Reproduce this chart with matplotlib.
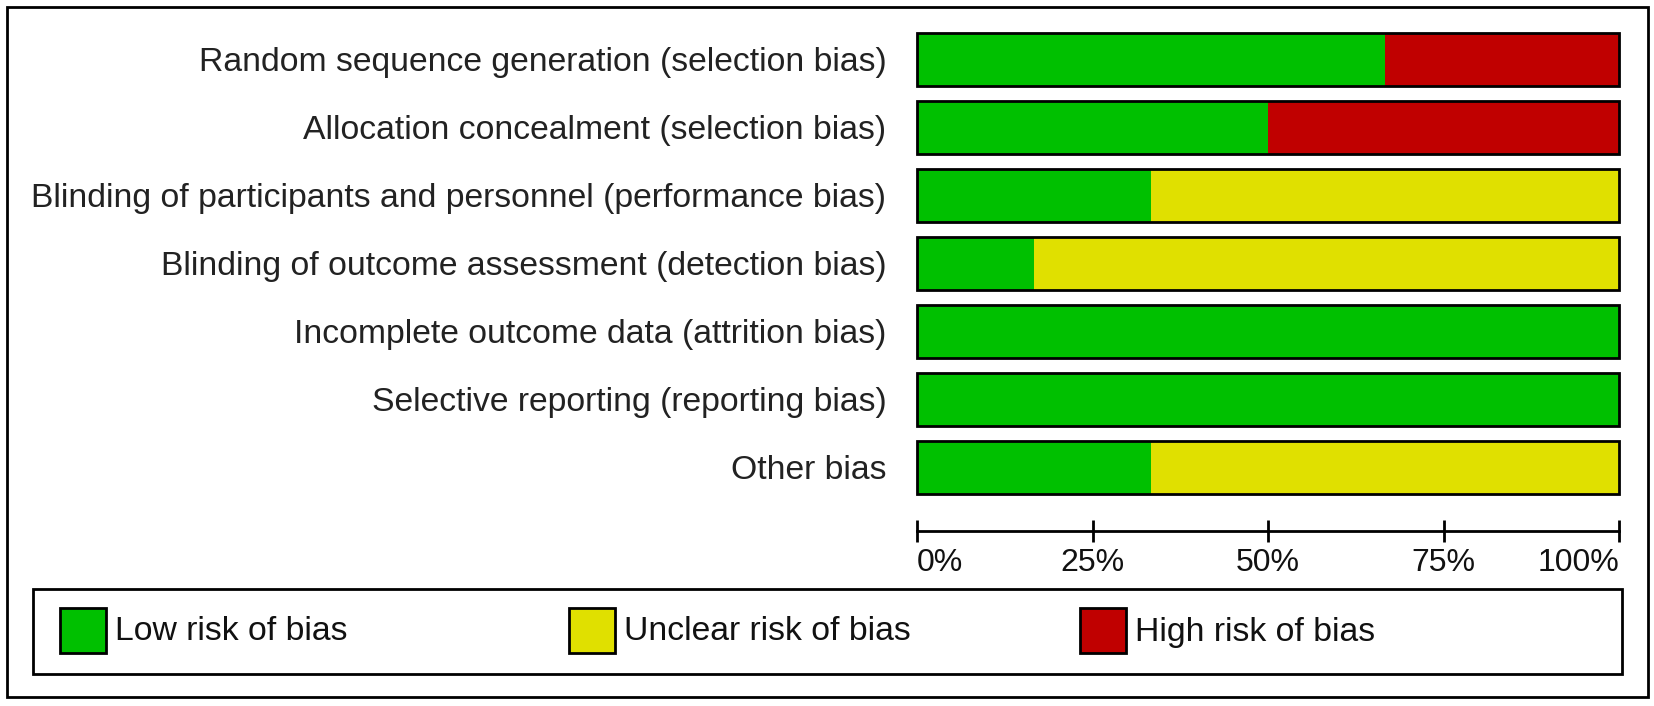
import numpy as np
import matplotlib.pyplot as plt
from matplotlib.patches import Rectangle

plt.rcParams['font.family'] = ['Liberation Sans', 'DejaVu Sans']

domains = ['Random sequence generation (selection bias)',
           'Allocation concealment (selection bias)',
           'Blinding of participants and personnel (performance bias)',
           'Blinding of outcome assessment (detection bias)',
           'Incomplete outcome data (attrition bias)',
           'Selective reporting (reporting bias)',
           'Other bias']
# number of studies (out of 6) judged at each level
n_studies = 6
low = [4, 3, 2, 1, 6, 6, 2]
unclear = [0, 0, 4, 5, 0, 0, 4]
high = [2, 3, 0, 0, 0, 0, 0]

levels = ['Low risk of bias', 'Unclear risk of bias', 'High risk of bias']
colors = ['#00c000', '#e0e000', '#c00000']
xticks = [0, 25, 50, 75, 100]
xticklabels = ['0%', '25%', '50%', '75%', '100%']

W, H = 1654, 706
fig = plt.figure(figsize=(W / 100, H / 100), dpi=100)

# frame layer in pixel coordinates
bg = fig.add_axes([0, 0, 1, 1])
bg.set_xlim(0, W)
bg.set_ylim(H, 0)
bg.axis('off')
bg.add_patch(Rectangle((7, 7), 1641, 690, fill=False, ec='black', lw=2))
bg.add_patch(Rectangle((33, 589), 1589, 85, fill=False, ec='black', lw=2))

# legend entries
leg_x = [60, 569, 1080]
for x0, lab, c in zip(leg_x, levels, colors):
    bg.add_patch(Rectangle((x0, 608), 46, 45, fc=c, ec='black', lw=2))
    bg.text(x0 + 55, 632, lab, fontsize=24.3, va='center', ha='left', color='#111111')

# main bar axes
left, right = 917 / W, 1619 / W
top, bottom = 1 - 25.5 / H, 1 - 531 / H
ax = fig.add_axes([left, bottom, right - left, top - bottom])

y = np.arange(len(domains))
pct = lambda v: np.array(v) / n_studies * 100
start = np.zeros(len(domains))
for vals, c in zip([low, unclear, high], colors):
    p = pct(vals)
    ax.barh(y, p, left=start, height=0.78, color=c, edgecolor='none')
    start += p
outl = ax.barh(y, 100, height=0.78, fill=False, edgecolor='black', linewidth=2)
for r in outl:
    r.set_clip_on(False)

ax.set_xlim(0, 100)
ax.set_ylim(6.94, -0.5)
for s in ['top', 'left', 'right']:
    ax.spines[s].set_visible(False)
ax.spines['bottom'].set_linewidth(2)

ax.set_yticks(y)
ax.set_yticklabels(domains, fontsize=24.3, color='#222222')
ax.tick_params(axis='y', length=0, pad=22)

ax.set_xticks(xticks)
ax.set_xticklabels(xticklabels, fontsize=23, color='#111111')
ax.tick_params(axis='x', direction='inout', length=16, width=2, pad=4)
labs = ax.get_xticklabels()
labs[0].set_ha('left')
labs[-1].set_ha('right')

fig.savefig('out.png', dpi=100)
